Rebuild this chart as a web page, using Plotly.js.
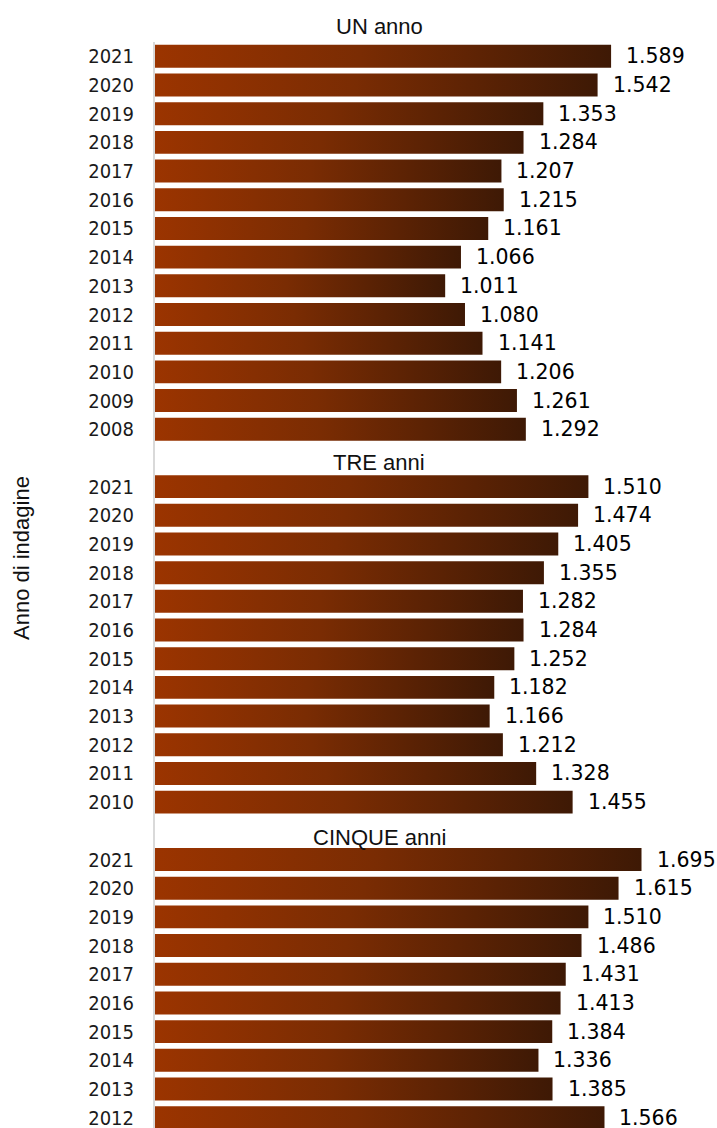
<!DOCTYPE html>
<html>
<head>
<meta charset="utf-8">
<script src="https://cdn.plot.ly/plotly-3.0.1.min.js"></script>
<style>html,body{margin:0;padding:0;overflow:hidden;background:#fff;width:717px;height:1128px}#chart{width:717px;height:1132px}</style>
</head>
<body>
<div id="chart"></div>
<script>
// ---- data ----
const groupTitles = ["UN anno", "TRE anni", "CINQUE anni"];
const yearsUno = ["2021","2020","2019","2018","2017","2016","2015","2014","2013","2012","2011","2010","2009","2008"];
const valuesUno = [1589,1542,1353,1284,1207,1215,1161,1066,1011,1080,1141,1206,1261,1292];
const yearsTre = ["2021","2020","2019","2018","2017","2016","2015","2014","2013","2012","2011","2010"];
const valuesTre = [1510,1474,1405,1355,1282,1284,1252,1182,1166,1212,1328,1455];
const yearsCinque = ["2021","2020","2019","2018","2017","2016","2015","2014","2013","2012"];
const valuesCinque = [1695,1615,1510,1486,1431,1413,1384,1336,1385,1566];
const yAxisTitle = "Anno di indagine";

// ---- build ----
const groups = [
  {title: groupTitles[0], years: yearsUno, values: valuesUno},
  {title: groupTitles[1], years: yearsTre, values: valuesTre},
  {title: groupTitles[2], years: yearsCinque, values: valuesCinque}
];
function fmt(v){ return String(v).replace(/\B(?=(\d{3})+(?!\d))/g, "."); }

const H = 1132, T = 42, PH = H - T;
const traces = [];
const annotations = [];
const tickvals = [], ticktext = [];
const titlePx = [25, 461, 836];
const half = 0.4;
let pos = 0;
groups.forEach((g, gi) => {
  annotations.push({
    x: (379 - 155) / 562, y: 1 - (titlePx[gi] + 1 - T) / PH, xref: 'paper', yref: 'paper',
    text: g.title, showarrow: false,
    xanchor: 'center', yanchor: 'middle',
    font: {family: 'Liberation Sans, Arial, sans-serif', size: 22, color: '#111'}
  });
  pos += 1;
  g.years.forEach((yr, i) => {
    const v = g.values[i];
    traces.push({
      type: 'scatter', mode: 'lines',
      x: [0, v, v, 0, 0],
      y: [pos - half, pos - half, pos + half, pos + half, pos - half],
      fill: 'toself',
      line: {width: 0},
      fillgradient: {type: 'horizontal', start: 0, stop: v,
        colorscale: [[0, '#9B3400'], [0.45, '#7A2C03'], [1, '#3E1905']]},
      hoverinfo: 'skip', showlegend: false
    });
    annotations.push({
      x: v, y: pos, xref: 'x', yref: 'y', text: fmt(v), showarrow: false,
      xanchor: 'left', yanchor: 'middle', xshift: 13,
      font: {family: 'DejaVu Sans, Verdana, sans-serif', size: 20.5, color: '#000'}
    });
    tickvals.push(pos); ticktext.push(yr);
    pos += 1;
  });
});

annotations.push({
  xref: 'paper', yref: 'paper', x: (21 - 155) / 562, y: 1 - (558 - T) / PH,
  text: yAxisTitle, showarrow: false, textangle: -90,
  xanchor: 'center', yanchor: 'middle',
  font: {family: 'Liberation Sans, Arial, sans-serif', size: 22, color: '#111'}
});

const layout = {
  width: 717, height: H,
  margin: {l: 155, r: 0, t: T, b: 0, pad: 0},
  paper_bgcolor: '#fff', plot_bgcolor: '#fff',
  showlegend: false,
  xaxis: {range: [0, 1958], visible: false, fixedrange: true},
  yaxis: {
    range: [38.5, 0.5], tickvals: tickvals, ticktext: ticktext,
    showgrid: false, zeroline: false, ticks: '', ticklabelstandoff: 15,
    showline: true, linecolor: '#d9d9d9', linewidth: 2,
    tickfont: {family: 'DejaVu Sans Condensed, DejaVu Sans, sans-serif', size: 20, color: '#1a1a1a'},
    fixedrange: true
  },
  annotations: annotations
};

Plotly.newPlot('chart', traces, layout, {displayModeBar: false, staticPlot: true});
</script>
</body>
</html>
